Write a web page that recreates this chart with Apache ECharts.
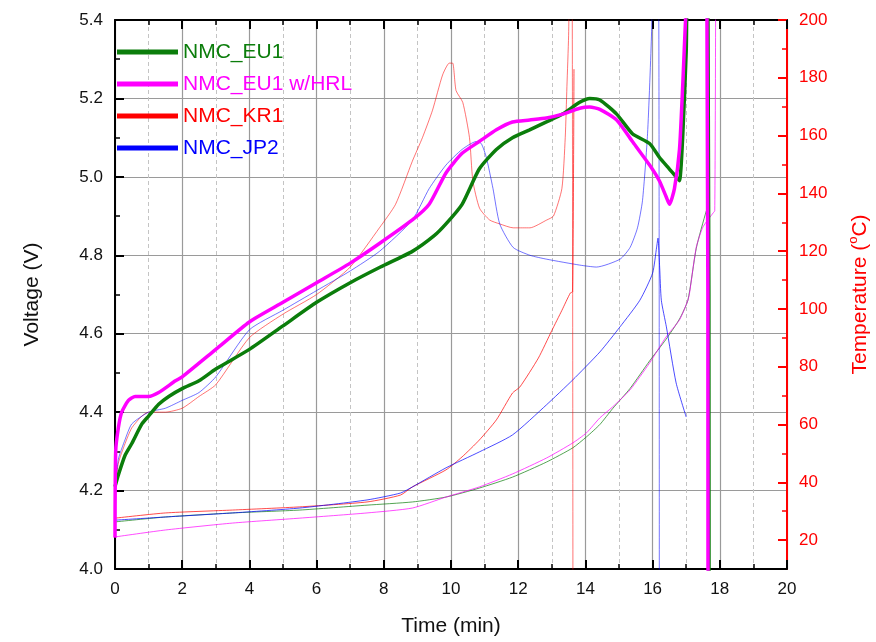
<!DOCTYPE html>
<html>
<head>
<meta charset="utf-8">
<script src="https://cdn.jsdelivr.net/npm/echarts@6/dist/echarts.min.js"></script>
<style>
html,body{margin:0;padding:0;background:#fff;}
#c{width:876px;height:642px;}
</style>
</head>
<body>
<div id="c"></div>
<script>
// ---- Data ----
const seriesNames = ['NMC_EU1', 'NMC_EU1 w/HRL', 'NMC_KR1', 'NMC_JP2'];
const seriesColors = ['#0b7d0b', '#ff00ff', '#ff0000', '#0000ff'];

// Voltage (V) vs time (min)
const eu1VTime = [0, 0.1, 0.3, 0.5, 0.8, 1.0, 1.3, 1.6, 2.0, 2.5, 3, 4, 5, 6, 7, 7.9, 8.85, 9.5, 9.85, 10.33, 10.84, 11.35, 11.83, 12.34, 12.84, 13.32, 13.83, 14.13, 14.43, 14.93, 15.4, 15.91, 16.2, 16.5, 16.7, 16.8, 16.9, 17.0, 17.1, 17.64, 17.68];
const eu1V     = [4.21, 4.24, 4.29, 4.32, 4.37, 4.39, 4.42, 4.44, 4.46, 4.48, 4.51, 4.56, 4.62, 4.68, 4.73, 4.77, 4.81, 4.85, 4.88, 4.93, 5.02, 5.07, 5.10, 5.12, 5.14, 5.16, 5.19, 5.20, 5.196, 5.16, 5.11, 5.085, 5.05, 5.02, 5.0, 4.99, 5.11, 5.32, 5.6, 5.6, 3.8];

const hrlVTime = [0, 0.02, 0.1, 0.2, 0.4, 0.6, 1.0, 1.3, 1.8, 2.0, 3, 4, 5, 6, 7, 7.87, 8.85, 9.35, 9.85, 10.33, 10.84, 11.35, 11.83, 12.34, 12.84, 13.32, 13.83, 14.13, 14.43, 14.93, 15.4, 15.91, 16.2, 16.4, 16.5, 16.65, 16.8, 16.9, 16.98, 17.1, 17.61, 17.65];
const hrlV     = [4.08, 4.30, 4.36, 4.40, 4.43, 4.44, 4.44, 4.45, 4.48, 4.49, 4.56, 4.63, 4.68, 4.73, 4.78, 4.83, 4.89, 4.93, 5.01, 5.06, 5.09, 5.12, 5.14, 5.145, 5.15, 5.16, 5.175, 5.178, 5.172, 5.145, 5.09, 5.03, 4.99, 4.95, 4.93, 4.97, 5.07, 5.24, 5.40, 5.6, 5.6, 3.8];

const kr1VTime = [0, 0.1, 0.3, 0.5, 0.8, 1.0, 1.5, 2.0, 2.5, 3, 4, 5, 6, 7, 7.87, 8.35, 8.85, 9.15, 9.45, 9.75, 9.95, 10.05, 10.15, 10.35, 10.55, 10.65, 10.85, 11.15, 11.45, 11.85, 12.13, 12.35, 12.85, 13.05, 13.3, 13.4, 13.45, 13.5, 13.55, 13.6, 13.63];
const kr1V     = [4.20, 4.27, 4.32, 4.36, 4.39, 4.40, 4.40, 4.41, 4.44, 4.47, 4.59, 4.65, 4.70, 4.77, 4.87, 4.93, 5.04, 5.10, 5.17, 5.26, 5.29, 5.29, 5.22, 5.19, 5.10, 4.99, 4.92, 4.89, 4.88, 4.87, 4.87, 4.87, 4.89, 4.90, 4.97, 5.10, 5.23, 5.36, 5.6, 5.6, 3.8];

const jp2VTime = [0, 0.1, 0.3, 0.5, 1.0, 1.5, 2.0, 2.5, 3, 4, 5, 6, 7, 7.87, 8.85, 9.35, 9.85, 10.33, 10.75, 10.9, 11.05, 11.25, 11.45, 11.85, 12.35, 12.85, 13.83, 14.33, 15.03, 15.33, 15.55, 15.7, 15.85, 15.97, 16.02, 16.17, 16.2];
const jp2V     = [4.20, 4.28, 4.33, 4.37, 4.40, 4.41, 4.43, 4.45, 4.49, 4.61, 4.66, 4.71, 4.76, 4.81, 4.89, 4.97, 5.03, 5.07, 5.09, 5.085, 5.05, 4.97, 4.88, 4.82, 4.80, 4.79, 4.775, 4.77, 4.79, 4.82, 4.87, 4.94, 5.11, 5.37, 5.6, 5.6, 3.8];

// Temperature (°C) vs time (min)
const eu1TTime = [0, 1.5, 3.5, 5.5, 7.5, 8.85, 9.85, 10.84, 11.83, 12.84, 13.62, 14.03, 14.43, 14.81, 15.33, 15.91, 16.4, 16.8, 17.05, 17.3, 17.6, 17.66];
const eu1T     = [26.3, 28.0, 29.4, 30.4, 32.1, 33.2, 34.9, 38.0, 41.8, 47.0, 51.9, 55.7, 60.0, 65.5, 72.5, 82.0, 89.5, 96.5, 103, 121, 134, 135];

const hrlTTime = [0, 1.5, 3.5, 5.5, 7.5, 8.85, 9.85, 10.84, 11.83, 12.84, 13.62, 14.03, 14.43, 14.81, 15.33, 15.91, 16.4, 16.8, 17.05, 17.1, 17.3, 17.5, 17.8, 17.85, 17.88];
const hrlT     = [21.1, 23.5, 25.9, 27.6, 29.4, 31.1, 34.9, 38.4, 42.9, 48.4, 53.6, 57.1, 62.3, 66.1, 72.0, 81.3, 90.3, 96.2, 103, 105.5, 121.4, 128.4, 133.2, 134, 220];

const kr1TTime = [0, 1.5, 3.5, 5.5, 7.5, 8.5, 8.85, 9.85, 10.33, 10.84, 11.35, 11.83, 12.05, 12.6, 13.0, 13.3, 13.55, 13.62, 13.66];
const kr1T     = [27.6, 29.4, 30.4, 31.5, 33.2, 35.6, 38.4, 44.3, 48.8, 54.6, 61.6, 70.9, 73.0, 83.0, 92.5, 99.5, 105.5, 106, 183];

const jp2TTime = [0, 1.5, 3.5, 5.5, 7.5, 8.5, 8.85, 9.85, 10.84, 11.83, 12.84, 13.62, 14.43, 15.03, 15.62, 16.0, 16.12, 16.16, 16.21, 16.26, 16.41, 16.7, 17.0];
const jp2T     = [26.9, 28.0, 29.4, 31.1, 33.9, 36.3, 38.4, 45.0, 50.5, 56.4, 66.8, 75.4, 85.1, 93.8, 103, 112.4, 121.4, 124.5, 114.5, 103, 93.8, 74.4, 62.6];

// Axis ticks
const tempMajorTicks = [20, 40, 60, 80, 100, 120, 140, 160, 180, 200];
const tempMinorTicks = [30, 50, 70, 90, 110, 130, 150, 170, 190];

// ---- Build ----
function zip(a, b) { return a.map((t, i) => [t, b[i]]); }

const FONT = 'Liberation Sans, Arial, sans-serif';
const GRID = { left: 115, right: 89, top: 20, bottom: 73 };
const GRID_W = 876 - GRID.left - GRID.right;

const vSeries = [
  { t: eu1VTime, v: eu1V, width: 3.5, opacity: 1 },
  { t: hrlVTime, v: hrlV, width: 3.5, opacity: 1 },
  { t: kr1VTime, v: kr1V, width: 1, opacity: 0.55 },
  { t: jp2VTime, v: jp2V, width: 1, opacity: 0.55 }
];
const tSeries = [
  { t: eu1TTime, v: eu1T },
  { t: hrlTTime, v: hrlT },
  { t: kr1TTime, v: kr1T },
  { t: jp2TTime, v: jp2T }
];

const series = [];
vSeries.forEach((s, i) => {
  series.push({
    name: seriesNames[i], type: 'line', xAxisIndex: 0, yAxisIndex: 0,
    data: zip(s.t, s.v), showSymbol: false, smooth: 0.2,
    lineStyle: { color: seriesColors[i], width: s.width, opacity: s.opacity },
    itemStyle: { color: seriesColors[i] }, z: 3 + (i < 2 ? 2 : 0), silent: true
  });
});
tSeries.forEach((s, i) => {
  series.push({
    name: seriesNames[i], type: 'line', xAxisIndex: 0, yAxisIndex: 1,
    data: zip(s.t, s.v), showSymbol: false, smooth: 0.2,
    lineStyle: { color: seriesColors[i], width: 1, opacity: 0.7 },
    itemStyle: { color: seriesColors[i] }, z: 3, silent: true
  });
});

const chart = echarts.init(document.getElementById('c'), null, { renderer: 'canvas' });
chart.setOption({
  animation: false,
  backgroundColor: '#fff',
  textStyle: { fontFamily: FONT },
  grid: Object.assign({ containLabel: false, outerBoundsMode: 'none' }, GRID),
  legend: {
    left: 112, top: 35, orient: 'vertical',
    itemWidth: 61, itemHeight: 5, itemGap: 8, icon: 'rect',
    textStyle: { fontSize: 21, fontFamily: FONT, lineHeight: 24 },
    selectedMode: false,
    data: seriesNames.map((n, i) => ({ name: n, itemStyle: { color: seriesColors[i] }, textStyle: { color: seriesColors[i] } }))
  },
  xAxis: [
    {
      type: 'value', position: 'bottom', min: 0, max: 20, interval: 2,
      axisLine: { show: true, onZero: false, lineStyle: { color: '#000', width: 2 } },
      axisTick: { show: true, inside: true, length: 9, lineStyle: { color: '#000', width: 2 } },
      minorTick: { show: true, splitNumber: 2, length: 5, lineStyle: { color: '#000', width: 1.5 } },
      splitLine: { show: true, lineStyle: { color: '#9a9a9a', width: 1.2 } },
      minorSplitLine: { show: true, lineStyle: { color: '#c4c4c4', width: 1, type: [4, 3] } },
      axisLabel: { fontSize: 17, color: '#111', margin: 12, fontFamily: FONT },
      name: 'Time (min)', nameLocation: 'middle', nameGap: 47,
      nameTextStyle: { fontSize: 21, color: '#111', fontFamily: FONT }
    },
    {
      type: 'value', position: 'top', min: 0, max: 20, interval: 2,
      axisLine: { show: true, onZero: false, lineStyle: { color: '#000', width: 2 } },
      axisTick: { show: true, inside: true, length: 9, lineStyle: { color: '#000', width: 2 } },
      minorTick: { show: true, splitNumber: 2, length: 5, lineStyle: { color: '#000', width: 1.5 } },
      splitLine: { show: false }, axisLabel: { show: false }
    }
  ],
  yAxis: [
    {
      type: 'value', position: 'left', min: 4.0, max: 5.4, interval: 0.2,
      axisLine: { show: true, onZero: false, lineStyle: { color: '#000', width: 2 } },
      axisTick: { show: true, inside: true, length: 9, lineStyle: { color: '#000', width: 2 } },
      minorTick: { show: true, splitNumber: 2, length: 5, lineStyle: { color: '#000', width: 1.5 } },
      splitLine: { show: true, lineStyle: { color: '#9a9a9a', width: 1.2 } },
      axisLabel: { fontSize: 17, color: '#111', margin: 12, fontFamily: FONT, formatter: v => v.toFixed(1) },
      name: 'Voltage (V)', nameLocation: 'middle', nameGap: 72, nameRotate: 90,
      nameTextStyle: { fontSize: 21, color: '#111', fontFamily: FONT }
    },
    {
      type: 'value', position: 'right', min: 10, max: 200,
      axisLine: { show: true, onZero: false, lineStyle: { color: '#ff0000', width: 2 } },
      axisTick: { show: true, inside: true, length: 9, customValues: tempMajorTicks, lineStyle: { color: '#ff0000', width: 2 } },
      splitLine: { show: false },
      axisLabel: { fontSize: 17, color: '#ff0000', margin: 12, fontFamily: FONT, customValues: tempMajorTicks },
      name: 'Temperature ({sup|o}C)', nameLocation: 'middle', nameGap: 60, nameRotate: 90,
      nameTextStyle: { fontSize: 21, color: '#ff0000', fontFamily: FONT,
        rich: { sup: { fontSize: 13, color: '#ff0000', fontFamily: FONT, verticalAlign: 'top', lineHeight: 26 } } }
    },
    {
      type: 'value', position: 'left', offset: -GRID_W, min: 10, max: 200,
      axisLine: { show: false },
      axisTick: { show: true, inside: false, length: 5, customValues: tempMinorTicks, lineStyle: { color: '#ff0000', width: 1.5 } },
      splitLine: { show: false },
      axisLabel: { show: false }
    }
  ],
  series: series
});
</script>
</body>
</html>
